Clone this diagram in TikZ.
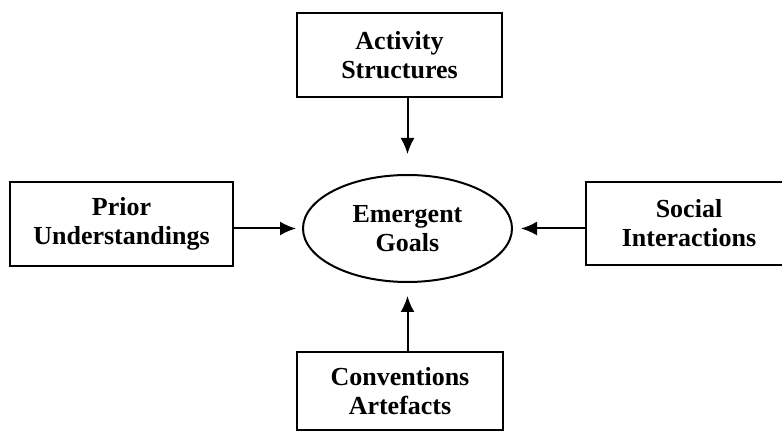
\documentclass[tikz,border=0pt]{standalone}
\usepackage{fontspec}
\setmainfont{Liberation Serif}
\usetikzlibrary{ arrows.meta, % For the filled arrow tips
                 shapes,      % For elipse and so
               }

\begin{document}
\begin{tikzpicture}[x=1pt, y=-1pt,
    factor/.style={draw, line width=2pt, rectangle, inner sep=0pt, align=center,
                   font=\fontsize{26}{29}\selectfont\bfseries},
    goal/.style={draw, line width=2pt, ellipse, inner sep=0pt, align=center,
                 minimum width=209pt, minimum height=107pt,
                 font=\fontsize{26}{29}\selectfont\bfseries},
    feeds/.style={line width=2pt, -{Latex[length=16pt, width=14pt]}}]
  \clip (0,0) rectangle (782,435);
  \useasboundingbox (0,0) rectangle (782,435);

  \node[goal] (goals) at (407.5,228.5) {Emergent\\Goals};

  \node[factor, minimum width=205pt, minimum height=84pt] (activity) at (399.5,55) {Activity\\Structures};
  \node[factor, minimum width=223pt, minimum height=84pt] (prior) at (121.5,224) {Prior\\Understandings};
  \node[factor, minimum width=206pt, minimum height=83pt] (social) at (689,223.5) {Social\\Interactions}; % cut off at the right
  \node[factor, minimum width=206pt, minimum height=78pt] (conventions) at (400,391) {Conventions\\Artefacts};

  \draw[feeds, shorten >=20pt] (activity.south -| goals) -- (goals.north);
  \draw[feeds, shorten >=6pt] (prior.east |- goals) -- (goals.west);
  \draw[feeds, shorten >=8pt] (social.west |- goals) -- (goals.east);
  \draw[feeds, shorten >=13pt] (conventions.north -| goals) -- (goals.south);
\end{tikzpicture}
\end{document}
